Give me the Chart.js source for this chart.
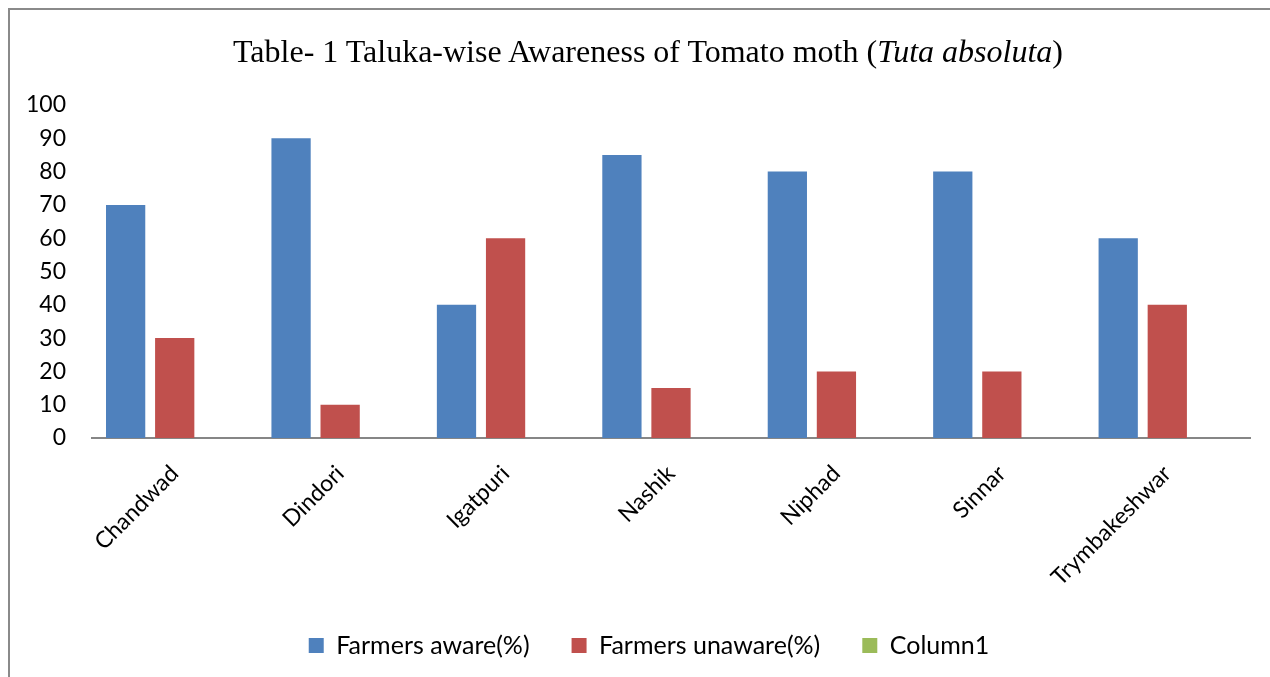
<!DOCTYPE html>
<html>
<head>
<meta charset="utf-8">
<script src="https://cdn.jsdelivr.net/npm/chart.js@4/dist/chart.umd.min.js"></script>
<style>
  html, body { margin: 0; background: #fff; overflow: hidden; }
  #frame {
    position: absolute; left: 8px; top: 8px; width: 1262px; height: 669px;
    border-left: 2px solid #8a8a8a; border-top: 2px solid #8a8a8a;
  }
  #title {
    position: absolute; left: 0; top: 35px; width: 1270px; padding-left: 26px; box-sizing: border-box;
    text-align: center; font-family: "Liberation Serif", serif; font-size: 32px; line-height: 32px; color: #000;
  }
  #wrap { position: absolute; left: 0; top: 0; width: 1270px; height: 710px; }
</style>
</head>
<body>
<div id="frame"></div>
<div id="wrap"><canvas id="mycanvas"></canvas></div>
<div id="title">Table- 1 Taluka-wise Awareness of Tomato moth (<i>Tuta absoluta</i>)</div>
<script>
var talukas = ['Chandwad', 'Dindori', 'Igatpuri', 'Nashik', 'Niphad', 'Sinnar', 'Trymbakeshwar'];
var aware = [70, 90, 40, 85, 80, 80, 60];
var unaware = [30, 10, 60, 15, 20, 20, 40];
var column1 = [];
var yTicks = [0, 10, 20, 30, 40, 50, 60, 70, 80, 90, 100];

var labelFont = { family: 'Lato', size: 23 };
var legendFont = { family: 'Lato', size: 25 };

var chartdata = {
	labels: talukas,
	datasets: [
		{ label: 'Farmers aware(%)', backgroundColor: '#4F81BD', data: aware },
		{ label: 'Farmers unaware(%)', backgroundColor: '#C0504D', data: unaware },
		{ label: 'Column1', backgroundColor: '#9BBB59', data: column1 }
	]
};

// the legend in the original sits a bit right of centre
var legendShift = {
	id: 'legendShift',
	afterLayout: function(chart) {
		chart.legend.left += 19;
		chart.legend.right += 19;
	}
};

var ctx = document.getElementById('mycanvas');
var BarGraph = new Chart(ctx, {
	type: 'bar',
	data: chartdata,
	plugins: [legendShift],
	options: {
		responsive: true,
		maintainAspectRatio: false,
		animation: false,
		categoryPercentage: 0.89,
		barPercentage: 0.8,
		layout: { padding: { top: 105, left: 10, right: 20, bottom: 42 } },
		plugins: {
			tooltip: { enabled: false },
			legend: {
				position: 'bottom',
				labels: { font: legendFont, color: '#000', boxWidth: 15, boxHeight: 15, padding: 42 }
			}
		},
		scales: {
			x: {
				grid: { display: false },
				border: { display: true, color: '#868686', width: 2 },
				ticks: { font: labelFont, color: '#000', minRotation: 45, maxRotation: 45, padding: 14 },
				afterFit: function(s) { s.height = 153; }
			},
			y: {
				min: 0, max: 100,
				grid: { display: false },
				border: { display: false },
				afterBuildTicks: function(s) { s.ticks = yTicks.map(function(v) { return { value: v }; }); },
				ticks: { font: labelFont, color: '#000', padding: 18 },
				afterFit: function(s) { s.width = 82; }
			}
		}
	}
});
</script>
</body>
</html>
